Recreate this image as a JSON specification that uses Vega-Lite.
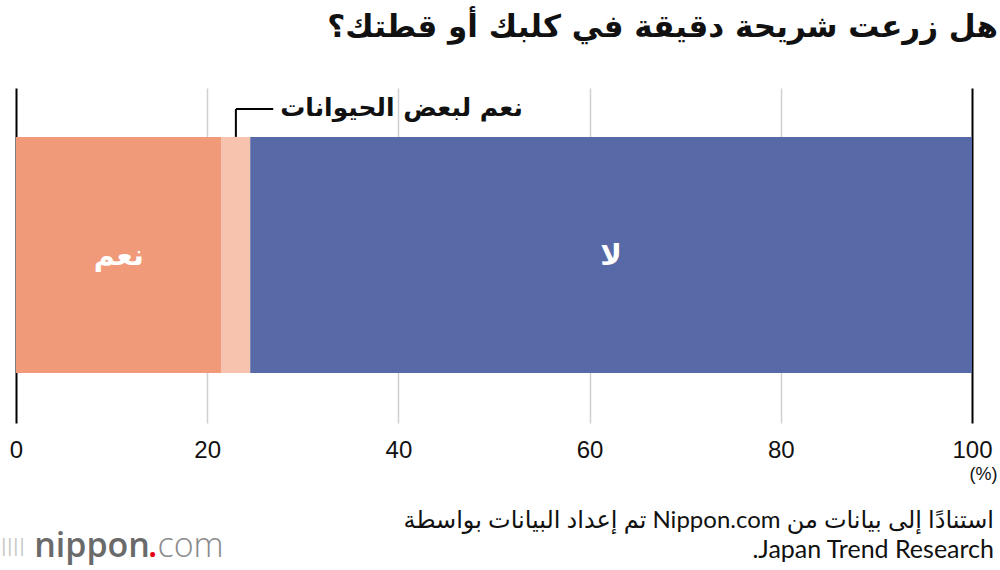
{
  "$schema": "https://vega.github.io/schema/vega-lite/v6.json",
  "width": 956,
  "height": 335,
  "autosize": {"type": "none"},
  "padding": {"left": 16, "top": 88, "right": 28, "bottom": 147},
  "background": "white",
  "config": {"view": {"stroke": null}},
  "title": {
    "text": "هل زرعت شريحة دقيقة في كلبك أو قطتك؟",
    "anchor": "end",
    "frame": "group",
    "dx": 26,
    "offset": 44,
    "font": "DejaVu Sans",
    "fontSize": 31,
    "fontWeight": "bold",
    "color": "#111"
  },
  "data": {
    "values": [
      {"answer": "نعم", "value": 21.5, "order": 1},
      {"answer": "نعم لبعض الحيوانات", "value": 3.0, "order": 2},
      {"answer": "لا", "value": 75.5, "order": 3}
    ]
  },
  "transform": [
    {"stack": "value", "groupby": [], "sort": [{"field": "order"}], "as": ["start", "end"]},
    {"calculate": "(datum.start + datum.end) / 2", "as": "mid"}
  ],
  "layer": [
    {
      "mark": {"type": "bar", "clip": false},
      "encoding": {
        "x": {
          "field": "start",
          "type": "quantitative",
          "scale": {"domain": [0, 100], "nice": false},
          "axis": {
            "values": [0, 20, 40, 60, 80, 100],
            "domain": false,
            "ticks": false,
            "grid": true,
            "gridColor": {"condition": {"test": "datum.value === 0 || datum.value === 100", "value": "#000"}, "value": "#d0d0d0"},
            "gridWidth": {"condition": {"test": "datum.value === 0 || datum.value === 100", "value": 2}, "value": 1.5},
            "labelFlush": false,
            "labelPadding": 15,
            "labelFont": "Liberation Sans",
            "labelFontSize": 24,
            "labelColor": "#111",
            "title": "(%)",
            "titleFont": "Liberation Sans",
            "titleFontSize": 18,
            "titleFontWeight": "normal",
            "titleColor": "#111",
            "titleX": 967,
            "titleY": 42,
            "titleAlign": "center"
          }
        },
        "x2": {"field": "end"},
        "y": {"datum": 0.149, "type": "quantitative", "scale": {"domain": [0, 1], "nice": false, "zero": false}, "axis": null},
        "y2": {"datum": 0.854},
        "color": {
          "field": "answer",
          "type": "nominal",
          "scale": {"domain": ["نعم", "نعم لبعض الحيوانات", "لا"], "range": ["#F19A79", "#F7C3AF", "#5769A6"]},
          "legend": null
        }
      }
    },
    {
      "transform": [{"filter": "datum.order !== 2"}],
      "mark": {"type": "text", "font": "DejaVu Sans", "fontSize": 29, "fontWeight": "bold", "color": "white", "align": "center", "baseline": "middle"},
      "encoding": {
        "x": {"field": "mid", "type": "quantitative"},
        "y": {"datum": 0.5},
        "text": {"field": "answer"}
      }
    },
    {
      "transform": [{"filter": "datum.order === 2"}],
      "mark": {"type": "rule", "color": "#000", "strokeWidth": 2},
      "encoding": {
        "x": {"field": "mid", "type": "quantitative"},
        "y": {"datum": 0.854},
        "y2": {"datum": 0.937}
      }
    },
    {
      "transform": [{"filter": "datum.order === 2"}],
      "mark": {"type": "rule", "color": "#000", "strokeWidth": 2, "x2Offset": 23},
      "encoding": {
        "x": {"field": "mid", "type": "quantitative"},
        "x2": {"field": "end"},
        "y": {"datum": 0.937}
      }
    },
    {
      "transform": [{"filter": "datum.order === 2"}],
      "mark": {"type": "text", "font": "DejaVu Sans", "fontSize": 25, "fontWeight": "bold", "color": "#111", "align": "left", "baseline": "middle", "dx": 30},
      "encoding": {
        "x": {"field": "end", "type": "quantitative"},
        "y": {"datum": 0.94},
        "text": {"field": "answer"}
      }
    },
    {
      "data": {"values": [{"line": "تم إعداد البيانات بواسطة Nippon.com استنادًا إلى بيانات من"}]},
      "mark": {"type": "text", "font": "Lato, DejaVu Sans", "fontSize": 24, "color": "#111", "align": "right", "baseline": "alphabetic"},
      "encoding": {
        "x": {"datum": 102.3},
        "y": {"datum": -0.3134},
        "text": {"field": "line"}
      }
    },
    {
      "data": {"values": [{"line": ".Japan Trend Research"}]},
      "mark": {"type": "text", "font": "Lato, DejaVu Sans", "fontSize": 25, "color": "#111", "align": "right", "baseline": "alphabetic"},
      "encoding": {
        "x": {"datum": 102.3},
        "y": {"datum": -0.403},
        "text": {"field": "line"}
      }
    },
    {
      "data": {"values": [{"t": "nippon"}]},
      "mark": {"type": "text", "font": "Open Sans", "fontSize": 34, "fontWeight": 600, "color": "#6a6a6a", "align": "left", "baseline": "middle"},
      "encoding": {"x": {"datum": 1.9}, "y": {"datum": -0.37}, "text": {"field": "t"}}
    },
    {
      "data": {"values": [{"t": "."}]},
      "mark": {"type": "text", "font": "Open Sans", "fontSize": 34, "fontWeight": 600, "color": "#e60012", "align": "left", "baseline": "middle"},
      "encoding": {"x": {"datum": 13.8}, "y": {"datum": -0.37}, "text": {"field": "t"}}
    },
    {
      "data": {"values": [{"t": "com"}]},
      "mark": {"type": "text", "font": "Open Sans", "fontSize": 34, "fontWeight": 300, "color": "#8a8a8a", "align": "left", "baseline": "middle"},
      "encoding": {"x": {"datum": 14.8}, "y": {"datum": -0.37}, "text": {"field": "t"}}
    },
    {
      "data": {"values": [{"t": "||||"}]},
      "mark": {"type": "text", "font": "DejaVu Sans", "fontSize": 18, "color": "#c8c8c8", "align": "left", "baseline": "middle"},
      "encoding": {"x": {"datum": -1.6}, "y": {"datum": -0.37}, "text": {"field": "t"}}
    }
  ]
}
